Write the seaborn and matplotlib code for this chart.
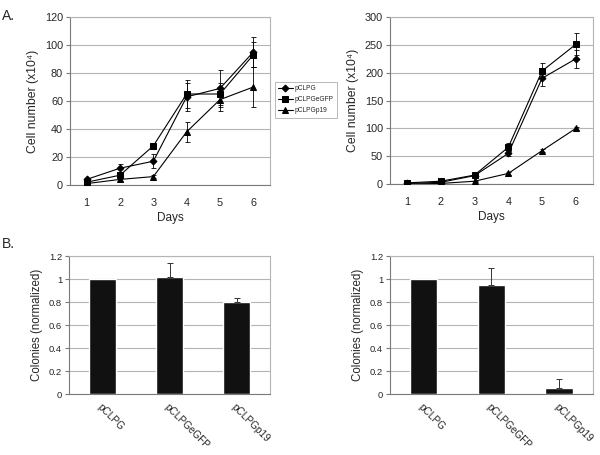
import numpy as np
import pandas as pd
import matplotlib
matplotlib.use("Agg")
import matplotlib.pyplot as plt
import seaborn as sns

sns.set_style("white")
plt.rcParams['font.family'] = ['Liberation Sans', 'DejaVu Sans']

days = [1, 2, 3, 4, 5, 6]
series = ["pCLPG", "pCLPGeGFP", "pCLPGp19"]

# panel A left
a1_pclpg = [4, 12, 17, 63, 69, 95]
a1_pclpg_err = [1, 3, 5, 10, 13, 11]
a1_egfp = [2, 7, 28, 65, 65, 93]
a1_egfp_err = [1, 5, 1, 10, 8, 9]
a1_p19 = [1, 4, 6, 38, 61, 70]
a1_p19_err = [0.5, 1, 1, 7, 8, 14]

# panel A right
a2_pclpg = [1, 3, 15, 55, 190, 225]
a2_pclpg_err = [0.5, 1, 2, 5, 14, 16]
a2_egfp = [2, 5, 16, 66, 203, 251]
a2_egfp_err = [0.5, 1, 2, 7, 15, 20]
a2_p19 = [0, 1, 5, 19, 60, 100]
a2_p19_err = [0, 0.5, 1, 2, 3, 3]

# panel B
bar_labels = ["pCLPG", "pCLPGeGFP", "pCLPGp19"]
b1_vals = [1.0, 1.02, 0.8]
b1_err = [0, 0.12, 0.035]
b2_vals = [1.0, 0.95, 0.05]
b2_err = [0, 0.15, 0.08]

markers = {"pCLPG": "D", "pCLPGeGFP": "s", "pCLPGp19": "^"}
msize = {"pCLPG": 3.5, "pCLPGeGFP": 4.5, "pCLPGp19": 4.5}
grid_c = "#b4b4b4"
spine_c = "#7a7a7a"
fs = 7.8


def style_axes(ax, ncat, start):
    for s in ["top", "right"]:
        ax.spines[s].set_color(grid_c)
        ax.spines[s].set_linewidth(0.8)
    for s in ["left", "bottom"]:
        ax.spines[s].set_color(spine_c)
        ax.spines[s].set_linewidth(0.8)
    ax.yaxis.grid(True, color=grid_c, linewidth=0.8)
    ax.set_axisbelow(True)
    # category ticks between categories, like the original
    bounds = np.arange(ncat + 1) + start - 0.5
    ax.set_xticks(bounds, minor=True)
    ax.tick_params(axis="x", which="minor", length=3, color=spine_c, direction="out")
    ax.tick_params(axis="x", which="major", length=0, labelsize=fs, pad=9)
    ax.tick_params(axis="y", which="major", length=3, color=spine_c, direction="out",
                   left=True, labelsize=fs, pad=2)
    ax.set_xlim(start - 0.5, start + ncat - 0.5)


def line_panel(ax, vals, errs, ymax, ystep):
    df = pd.DataFrame({
        "day": days * 3,
        "cells": vals[0] + vals[1] + vals[2],
        "construct": [s for s in series for _ in days],
    })
    for s, v, e in zip(series, vals, errs):
        ax.errorbar(days, v, yerr=e, fmt="none", ecolor="black", elinewidth=0.6,
                    capsize=1.8, capthick=0.6, zorder=2)
    for s in series:
        sub = df[df["construct"] == s]
        sns.lineplot(data=sub, x="day", y="cells", ax=ax, color="black",
                     marker=markers[s], markersize=msize[s], linewidth=0.8,
                     markeredgecolor="black", label=s, legend=False, zorder=3)
    style_axes(ax, 6, 1)
    ax.set_xticks(days)
    ax.set_ylim(0, ymax)
    ax.set_yticks(np.arange(0, ymax + 1, ystep))
    ax.set_xlabel("Days", fontsize=8.5, labelpad=3)
    ax.set_ylabel("Cell number (x10\u2074)", fontsize=8.8, labelpad=4)


def bar_panel(ax, vals, errs):
    df = pd.DataFrame({"construct": bar_labels, "colonies": vals})
    sns.barplot(data=df, x="construct", y="colonies", ax=ax, color="#111111",
                width=0.4, saturation=1, errorbar=None, zorder=2)
    idx = [i for i, e in enumerate(errs) if e > 0]
    ax.errorbar([i for i in idx], [vals[i] for i in idx],
                yerr=[[0] * len(idx), [errs[i] for i in idx]], fmt="none",
                ecolor="#333333", elinewidth=0.7, capsize=2, capthick=0.7, zorder=3)
    style_axes(ax, 3, 0)
    ax.set_ylim(0, 1.2)
    ax.set_yticks([0, 0.2, 0.4, 0.6, 0.8, 1, 1.2])
    ax.set_yticklabels(["0", "0.2", "0.4", "0.6", "0.8", "1", "1.2"], fontsize=6.8)
    ax.set_xlabel("")
    ax.set_ylabel("Colonies (normalized)", fontsize=8.3, labelpad=4)
    ax.set_xticks(range(3))
    ax.set_xticklabels(bar_labels, rotation=-45, ha="left", va="top",
                       rotation_mode="anchor", fontsize=7.2)
    ax.tick_params(axis="x", which="major", pad=6)


fig = plt.figure(figsize=(6, 4.55), dpi=100)
ax1 = fig.add_axes([0.1167, 0.5934, 0.3333, 0.3692])
ax2 = fig.add_axes([0.65, 0.5956, 0.338, 0.367])
ax3 = fig.add_axes([0.115, 0.134, 0.335, 0.3033])
ax4 = fig.add_axes([0.65, 0.134, 0.338, 0.3033])

line_panel(ax1, [a1_pclpg, a1_egfp, a1_p19], [a1_pclpg_err, a1_egfp_err, a1_p19_err], 120, 20)
line_panel(ax2, [a2_pclpg, a2_egfp, a2_p19], [a2_pclpg_err, a2_egfp_err, a2_p19_err], 300, 50)
bar_panel(ax3, b1_vals, b1_err)
bar_panel(ax4, b2_vals, b2_err)

handles, labels = ax1.get_legend_handles_labels()
leg = fig.legend(handles, labels, loc="upper left", bbox_to_anchor=(0.458, 0.82),
                 fontsize=4.8, frameon=True, fancybox=False, handlelength=2.2,
                 handletextpad=0.3, borderpad=0.5, labelspacing=0.6, borderaxespad=0)
leg.get_frame().set_edgecolor("#999999")
leg.get_frame().set_linewidth(0.6)

fig.text(0.003, 0.955, "A.", fontsize=10)
fig.text(0.003, 0.455, "B.", fontsize=10)

fig.savefig("out.png", dpi=100)
